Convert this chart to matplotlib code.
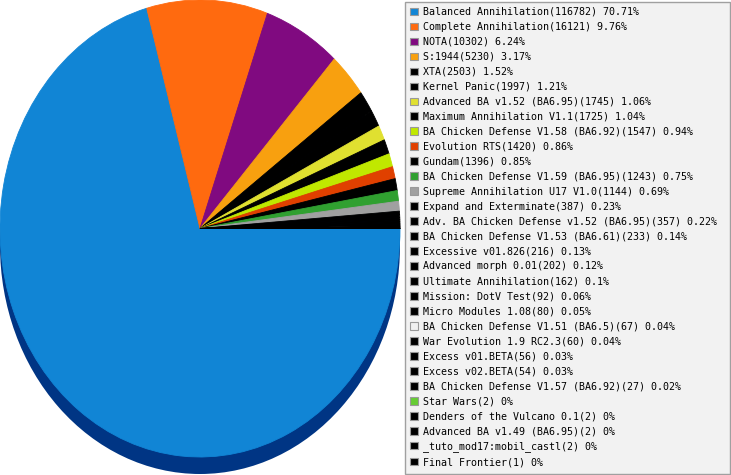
import matplotlib
matplotlib.use("Agg")
import matplotlib.pyplot as plt
from matplotlib.patches import Patch, Rectangle, Ellipse

names = [
    "Balanced Annihilation", "Complete Annihilation", "NOTA", "S:1944", "XTA",
    "Kernel Panic", "Advanced BA v1.52 (BA6.95)", "Maximum Annihilation V1.1",
    "BA Chicken Defense V1.58 (BA6.92)", "Evolution RTS", "Gundam",
    "BA Chicken Defense V1.59 (BA6.95)", "Supreme Annihilation U17 V1.0",
    "Expand and Exterminate", "Adv. BA Chicken Defense v1.52 (BA6.95)",
    "BA Chicken Defense V1.53 (BA6.61)", "Excessive v01.826", "Advanced morph 0.01",
    "Ultimate Annihilation", "Mission: DotV Test", "Micro Modules 1.08",
    "BA Chicken Defense V1.51 (BA6.5)", "War Evolution 1.9 RC2.3", "Excess v01.BETA",
    "Excess v02.BETA", "BA Chicken Defense V1.57 (BA6.92)", "Star Wars",
    "Denders of the Vulcano 0.1", "Advanced BA v1.49 (BA6.95)",
    "_tuto_mod17:mobil_castl", "Final Frontier",
]
counts = [116782, 16121, 10302, 5230, 2503, 1997, 1745, 1725, 1547, 1420, 1396,
          1243, 1144, 387, 357, 233, 216, 202, 162, 92, 80, 67, 60, 56, 54, 27,
          2, 2, 2, 2, 1]
percents = [70.71, 9.76, 6.24, 3.17, 1.52, 1.21, 1.06, 1.04, 0.94, 0.86, 0.85,
            0.75, 0.69, 0.23, 0.22, 0.14, 0.13, 0.12, 0.1, 0.06, 0.05, 0.04,
            0.04, 0.03, 0.03, 0.02, 0, 0, 0, 0, 0]
colors = ["#1185d5", "#ff6a0f", "#800a80", "#f8a00f", "#000000", "#000000",
          "#e0e030", "#000000", "#c0e800", "#e04000", "#000000", "#30a030",
          "#a0a0a0", "#000000", "#000000", "#000000", "#000000", "#000000",
          "#000000", "#000000", "#000000", "#f0f0f0", "#000000", "#000000",
          "#000000", "#000000", "#66cc33", "#000000", "#000000", "#000000",
          "#000000"]

W, H = 731, 475
fig = plt.figure(figsize=(W / 100, H / 100), dpi=100)
fig.patch.set_facecolor("white")

# pie axes: x 0..400 px, full height
ax = fig.add_axes([0, 0, 400 / W, 1])
ry_px = 228.5
depth = 17 / ry_px
ax.add_patch(Ellipse((0, -depth), 2, 2, facecolor="#003584", edgecolor="none", zorder=0))
wedges, _ = ax.pie(counts, colors=colors, startangle=0, counterclock=False, radius=1,
                   wedgeprops=dict(linewidth=0.6, antialiased=True))
for w, c, p in zip(wedges, colors, percents):
    # tiny slices blend into the dark band near 3 o'clock, as in the original
    w.set_edgecolor(c if p >= 0.1 else "#000000")
ax.set_aspect("auto")
ax.set_xlim(-1, 1)
ax.set_ylim(-(H - ry_px) / ry_px, 1.0)
ax.axis("off")

# legend frame
fig.add_artist(Rectangle((405 / W, 1 / H), (730 - 405) / W, (473 - 1) / H,
                         transform=fig.transFigure, facecolor="#f2f2f2",
                         edgecolor="#a0a0a0", linewidth=1.0, zorder=1))

handles = [Patch(facecolor=c, edgecolor="#999999", linewidth=0.8) for c in colors]
labels = [f"{n}({c}) {p:g}%" for n, c, p in zip(names, counts, percents)]
leg = fig.legend(handles, labels, loc="upper left",
                 bbox_to_anchor=(410.3 / W, (H - 7.0) / H),
                 bbox_transform=fig.transFigure, frameon=False,
                 prop={"family": "DejaVu Sans Mono", "size": 7.2},
                 handlelength=0.8, handleheight=0.8, handletextpad=0.45,
                 labelspacing=0.497, borderpad=0, borderaxespad=0)
leg.set_zorder(2)

fig.savefig("out.png", dpi=100)
